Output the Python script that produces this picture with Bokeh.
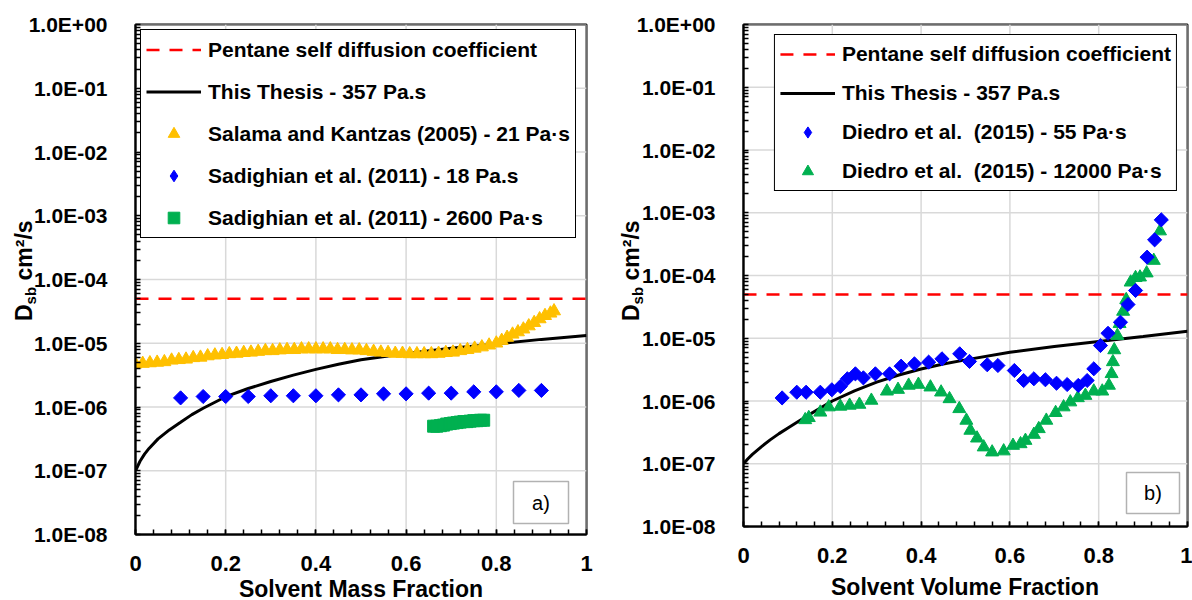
from bokeh.plotting import figure
from bokeh.layouts import row, column
from bokeh.models import (FixedTicker, CustomJSTickFormatter, Legend, LegendItem, Label,
                          BoxAnnotation, Range1d, Span, Div)
from bokeh.embed import file_html
from bokeh.resources import INLINE

FONT = "Liberation Sans"
CSS_FONT = "font-family:'Liberation Sans', Arial, sans-serif; font-weight:bold; color:#000;"

# ---------------- data ----------------
pentane_D = 5.0e-5

# panel a) : Solvent mass fraction
thesis_a_x = [0.0, 0.01, 0.02, 0.03, 0.05, 0.075, 0.10, 0.125, 0.15, 0.20, 0.25, 0.30, 0.35,
              0.40, 0.45, 0.50, 0.60, 0.70, 0.80, 0.90, 1.00]
thesis_a_D = [1.00e-7, 1.41e-7, 1.82e-7, 2.24e-7, 3.16e-7, 4.37e-7, 5.75e-7, 7.59e-7, 9.55e-7,
              1.45e-6, 1.95e-6, 2.51e-6, 3.16e-6, 3.89e-6, 4.68e-6, 5.50e-6, 6.92e-6, 8.32e-6,
              9.77e-6, 1.15e-5, 1.32e-5]

salama_x = [0.000, 0.016, 0.032, 0.048, 0.064, 0.080, 0.096, 0.112, 0.128, 0.144, 0.160, 0.176,
            0.192, 0.208, 0.224, 0.240, 0.256, 0.272, 0.288, 0.304, 0.320, 0.336, 0.352, 0.368,
            0.384, 0.400, 0.416, 0.432, 0.448, 0.464, 0.480, 0.496, 0.512, 0.528, 0.544, 0.560,
            0.576, 0.592, 0.608, 0.624, 0.640, 0.656, 0.672, 0.688, 0.704, 0.720, 0.736, 0.752,
            0.768, 0.784, 0.800, 0.812, 0.824, 0.836, 0.848, 0.860, 0.872, 0.884, 0.896, 0.908,
            0.920, 0.928]
salama_D = [4.7e-6, 4.8e-6, 4.9e-6, 5.0e-6, 5.1e-6, 5.4e-6, 5.5e-6, 5.6e-6, 5.9e-6, 6.0e-6,
            6.3e-6, 6.5e-6, 6.6e-6, 6.8e-6, 6.9e-6, 7.1e-6, 7.2e-6, 7.4e-6, 7.6e-6, 7.6e-6,
            7.8e-6, 7.9e-6, 7.9e-6, 8.1e-6, 8.1e-6, 8.1e-6, 8.1e-6, 8.1e-6, 7.9e-6, 7.9e-6,
            7.8e-6, 7.8e-6, 7.6e-6, 7.4e-6, 7.2e-6, 7.1e-6, 6.9e-6, 6.9e-6, 6.8e-6, 6.8e-6,
            6.8e-6, 6.8e-6, 6.9e-6, 7.1e-6, 7.2e-6, 7.6e-6, 7.9e-6, 8.3e-6, 8.7e-6, 9.3e-6,
            1.0e-5, 1.1e-5, 1.23e-5, 1.38e-5, 1.5e-5, 1.66e-5, 1.86e-5, 2.1e-5, 2.4e-5, 2.7e-5,
            2.95e-5, 3.2e-5]

sad18_x = [0.10, 0.15, 0.20, 0.25, 0.30, 0.35, 0.40, 0.45, 0.50, 0.55, 0.60, 0.65, 0.70, 0.75,
           0.80, 0.85, 0.90]
sad18_D = [1.39e-6, 1.46e-6, 1.46e-6, 1.46e-6, 1.50e-6, 1.50e-6, 1.50e-6, 1.55e-6, 1.55e-6,
           1.61e-6, 1.61e-6, 1.65e-6, 1.65e-6, 1.73e-6, 1.73e-6, 1.82e-6, 1.82e-6]

sad2600_x = [0.661, 0.668, 0.676, 0.683, 0.690, 0.698, 0.705, 0.713, 0.720, 0.728, 0.735, 0.742,
             0.750, 0.757, 0.765, 0.772]
sad2600_D = [5.0e-7, 5.0e-7, 5.1e-7, 5.2e-7, 5.4e-7, 5.5e-7, 5.6e-7, 5.7e-7, 5.8e-7, 5.9e-7,
             5.9e-7, 6.0e-7, 6.1e-7, 6.1e-7, 6.2e-7, 6.2e-7]

# panel b) : Solvent volume fraction
thesis_b_x = [0.0, 0.01, 0.02, 0.04, 0.06, 0.08, 0.10, 0.125, 0.15, 0.20, 0.25, 0.30, 0.35,
              0.40, 0.45, 0.50, 0.60, 0.70, 0.80, 0.90, 1.00]
thesis_b_D = [1.00e-7, 1.20e-7, 1.41e-7, 1.86e-7, 2.40e-7, 3.02e-7, 3.72e-7, 4.79e-7, 6.17e-7,
              1.00e-6, 1.45e-6, 2.00e-6, 2.60e-6, 3.24e-6, 3.89e-6, 4.52e-6, 5.96e-6, 7.41e-6,
              8.91e-6, 1.07e-5, 1.29e-5]

d55_x = [0.087, 0.120, 0.141, 0.173, 0.199, 0.218, 0.234, 0.252, 0.270, 0.297, 0.329, 0.355,
         0.385, 0.417, 0.447, 0.487, 0.509, 0.549, 0.573, 0.610, 0.631, 0.654, 0.680, 0.705,
         0.729, 0.754, 0.774, 0.789, 0.804, 0.821, 0.849, 0.866, 0.883, 0.909, 0.926, 0.941]
d55_D = [1.12e-6, 1.38e-6, 1.38e-6, 1.38e-6, 1.51e-6, 1.70e-6, 2.26e-6, 2.71e-6, 2.34e-6,
         2.71e-6, 2.71e-6, 3.59e-6, 3.91e-6, 4.16e-6, 4.70e-6, 5.65e-6, 4.27e-6, 3.78e-6,
         3.68e-6, 3.06e-6, 2.12e-6, 2.26e-6, 2.18e-6, 1.92e-6, 1.83e-6, 1.77e-6, 2.12e-6,
         3.26e-6, 7.66e-6, 1.2e-5, 1.8e-5, 3.45e-5, 5.77e-5, 1.96e-4, 3.7e-4, 7.7e-4]

d12000_x = [0.139, 0.147, 0.173, 0.192, 0.218, 0.239, 0.261, 0.288, 0.323, 0.348, 0.372, 0.394,
            0.421, 0.445, 0.464, 0.486, 0.502, 0.511, 0.526, 0.541, 0.560, 0.586, 0.607, 0.624,
            0.635, 0.654, 0.665, 0.682, 0.703, 0.721, 0.736, 0.753, 0.770, 0.789, 0.808, 0.823,
            0.829, 0.832, 0.835, 0.842, 0.847, 0.855, 0.862, 0.872, 0.883, 0.893, 0.908, 0.924,
            0.938]
d12000_D = [5.0e-7, 5.4e-7, 6.6e-7, 8.0e-7, 8.2e-7, 8.5e-7, 8.8e-7, 1.02e-6, 1.43e-6, 1.52e-6,
            1.77e-6, 1.83e-6, 1.66e-6, 1.38e-6, 1.08e-6, 7.5e-7, 4.9e-7, 3.39e-7, 2.55e-7,
            1.84e-7, 1.53e-7, 1.59e-7, 1.95e-7, 2.07e-7, 2.34e-7, 2.92e-7, 3.6e-7, 4.9e-7,
            6.5e-7, 8.0e-7, 9.6e-7, 1.12e-6, 1.22e-6, 1.43e-6, 1.43e-6, 1.77e-6, 2.71e-6,
            4.2e-6, 6.5e-6, 1.1e-5, 1.7e-5, 2.67e-5, 4.1e-5, 7.8e-5, 9.2e-5, 9.4e-5, 1.09e-4,
            1.73e-4, 5.1e-4]

x_ticks = [0.0, 0.2, 0.4, 0.6, 0.8, 1.0]
y_decades = list(range(-8, 1))

# ---------------- styling ----------------
RED = "#FF0000"
YELLOW = "#FFC000"
BLUE = "#0000FF"
GREEN = "#00B050"
GRID = "#d9d9d9"
NAN = float("nan")

y_major = [10.0 ** k for k in y_decades]
y_minor = [m * 10.0 ** k for k in y_decades[:-1] for m in range(2, 10)]
x_minor = [i * 0.04 for i in range(26)]

Y_FMT = """
const e = Math.round(Math.log10(tick));
const a = Math.abs(e);
return "1.0E" + (e < 0 ? "-" : "+") + (a < 10 ? "0" : "") + a;
"""
X_FMT = "return (Math.round(tick * 10) / 10).toString();"

H = 600
TOP = 24


def make_fig(width, height, mb_left, mb_right, frame_h, x_standoff):
    p = figure(width=width, height=height, x_range=Range1d(0, 1), y_range=Range1d(1e-8, 1),
               y_axis_type="log", output_backend="svg", toolbar_location=None,
               min_border_left=mb_left, min_border_right=mb_right, min_border_top=TOP,
               min_border_bottom=height - TOP - frame_h)
    p.background_fill_color = "white"
    p.border_fill_color = None
    p.outline_line_color = "black"
    p.outline_line_width = 2
    p.outline_line_alpha = 1
    p.grid.visible = False
    for ax in (p.xaxis[0], p.yaxis[0]):
        ax.axis_line_color = "black"
        ax.axis_line_width = 2
        ax.major_tick_in = 5
        ax.major_tick_out = 0
        ax.minor_tick_in = 5
        ax.minor_tick_out = 0
        ax.major_tick_line_color = "black"
        ax.minor_tick_line_color = "black"
        ax.major_tick_line_width = 1.5
        ax.minor_tick_line_width = 1.5
        ax.major_label_text_font = FONT
        ax.major_label_text_font_style = "bold"
        ax.major_label_text_color = "black"
    p.xaxis.major_label_text_font_size = "22px"
    p.yaxis.major_label_text_font_size = "21px"
    p.xaxis.ticker = FixedTicker(ticks=x_ticks, minor_ticks=x_minor)
    p.yaxis.ticker = FixedTicker(ticks=y_major, minor_ticks=y_minor)
    p.xaxis.formatter = CustomJSTickFormatter(code=X_FMT)
    p.yaxis.formatter = CustomJSTickFormatter(code=Y_FMT)
    p.xaxis.major_label_standoff = x_standoff
    p.yaxis.major_label_standoff = 28
    # grid lines at the major ticks
    for xv in x_ticks:
        p.add_layout(Span(location=xv, dimension="height", line_color=GRID, line_width=1.5,
                          level="underlay"))
    for yv in y_major:
        p.add_layout(Span(location=yv, dimension="width", line_color=GRID, line_width=1.5,
                          level="underlay"))
    return p


def ytitle_div(width, left, top):
    """Rotated y-axis title D_sb cm²/s as real HTML text with a subscript."""
    inner = (
        '<div style="position:absolute; left:%dpx; top:%dpx; transform:rotate(-90deg); '
        'transform-origin:0 0; white-space:nowrap; %s font-size:23px; line-height:23px;">'
        'D<span style="font-size:15px; vertical-align:-4px;">sb</span> cm\u00b2/s</div>'
        % (left, top, CSS_FONT))
    html = ('<div style="position:relative; width:%dpx; height:%dpx; overflow:visible;">%s</div>'
            % (width, H, inner))
    return Div(text=html, width=width, height=H, margin=0, styles={"overflow": "visible"})


def xtitle_div(text, width, height, center, line_h):
    inner = ('<div style="position:absolute; left:%dpx; top:0px; width:400px; text-align:center; '
             'white-space:nowrap; %s font-size:23px; line-height:%dpx;">%s</div>'
             % (center - 200, CSS_FONT, line_h, text))
    html = ('<div style="position:relative; width:%dpx; height:%dpx; overflow:visible;">%s</div>'
            % (width, height, inner))
    return Div(text=html, width=width, height=height, margin=0, styles={"overflow": "visible"})


def add_panel_tag(p, txt, l, r, b, t):
    p.add_layout(BoxAnnotation(left=l, right=r, bottom=b, top=t, left_units="screen",
                               right_units="screen", bottom_units="screen", top_units="screen",
                               fill_color="white", fill_alpha=1, line_color="black",
                               line_width=1.5, level="annotation"))
    p.add_layout(Label(x=(l + r) / 2, y=(b + t) / 2, x_units="screen", y_units="screen",
                       text=txt, text_font=FONT, text_font_size="20px", text_align="center",
                       text_baseline="middle", text_color="black"))


def make_legend(items, loc, margin, row_h, spacing):
    return Legend(items=items, location=loc, padding=5, spacing=spacing, glyph_width=55,
                  glyph_height=row_h, label_height=row_h, label_standoff=7, margin=margin,
                  label_text_font=FONT, label_text_font_size="21px",
                  label_text_font_style="bold", label_text_color="black",
                  border_line_color="black", border_line_width=1.5, border_line_alpha=1,
                  background_fill_color="white", background_fill_alpha=1)


# ---------------- panel a ----------------
TA_W = 20
PA_W = 600 - TA_W
PA_H = 582
ta = ytitle_div(TA_W, 13, 321)
pa = make_fig(PA_W, PA_H, 135 - TA_W, 14, 510, 21)
ra_pent = pa.line([x_ticks[0], x_ticks[-1]], [pentane_D, pentane_D], line_color=RED,
                  line_width=2.5, line_dash="13 10")
ra_th = pa.line(thesis_a_x, thesis_a_D, line_color="black", line_width=3)
pa.scatter(salama_x, salama_D, marker="triangle", size=13, fill_color=YELLOW, line_color=YELLOW)
pa.scatter(sad18_x, sad18_D, marker="square", angle=0.785398, size=10, fill_color=BLUE,
           line_color=BLUE)
pa.scatter(sad2600_x, sad2600_D, marker="square", size=12, fill_color=GREEN, line_color=GREEN)
# legend symbols (proxies with no visible point, drawn only in the legend)
la_sal = pa.scatter([NAN], [NAN], marker="triangle", size=11, fill_color=YELLOW,
                    line_color=YELLOW)
la_s18 = pa.scatter([NAN], [NAN], marker="diamond", size=14, fill_color=BLUE, line_color=BLUE)
la_s26 = pa.scatter([NAN], [NAN], marker="square", size=9, fill_color=GREEN, line_color=GREEN)
leg_a = make_legend([
    LegendItem(label="Pentane self diffusion coefficient", renderers=[ra_pent]),
    LegendItem(label="This Thesis - 357 Pa.s", renderers=[ra_th]),
    LegendItem(label="Salama and Kantzas (2005) - 21 Pa\u00b7s", renderers=[la_sal]),
    LegendItem(label="Sadighian et al. (2011) - 18 Pa.s", renderers=[la_s18]),
    LegendItem(label="Sadighian et al. (2011) - 2600 Pa\u00b7s", renderers=[la_s26]),
], "top_left", 5, 29, 13)
pa.add_layout(leg_a)
add_panel_tag(pa, "a)", 378, 433, 11, 53)
xa = xtitle_div("Solvent Mass Fraction", PA_W, H - PA_H, 135 + 226 - TA_W, 14)

# ---------------- panel b ----------------
TB_W = 20
PB_W = 592 - TB_W
PB_H = 574
tb = ytitle_div(TB_W, 20, 321)
pb = make_fig(PB_W, PB_H, 743 - 600 - TB_W, 5, 502, 21)
rb_pent = pb.line([x_ticks[0], x_ticks[-1]], [pentane_D, pentane_D], line_color=RED,
                  line_width=2.5, line_dash="13 10")
rb_th = pb.line(thesis_b_x, thesis_b_D, line_color="black", line_width=3)
pb.scatter(d12000_x, d12000_D, marker="triangle", size=13, fill_color=GREEN, line_color=GREEN)
pb.scatter(d55_x, d55_D, marker="square", angle=0.785398, size=10, fill_color=BLUE,
           line_color=BLUE)
lb_55 = pb.scatter([NAN], [NAN], marker="diamond", size=14, fill_color=BLUE, line_color=BLUE)
lb_12 = pb.scatter([NAN], [NAN], marker="triangle", size=11, fill_color=GREEN, line_color=GREEN)
leg_b = make_legend([
    LegendItem(label="Pentane self diffusion coefficient", renderers=[rb_pent]),
    LegendItem(label="This Thesis - 357 Pa.s", renderers=[rb_th]),
    LegendItem(label="Diedro et al.  (2015) - 55 Pa\u00b7s", renderers=[lb_55]),
    LegendItem(label="Diedro et al.  (2015) - 12000 Pa\u00b7s", renderers=[lb_12]),
], "top_right", 10, 28, 11)
pb.add_layout(leg_b)
add_panel_tag(pb, "b)", 383, 436, 13, 54)
xb = xtitle_div("Solvent Volume Fraction", PB_W, H - PB_H, 743 + 222 - 600 - TB_W, 26)

layout = row(ta, column(pa, xa), tb, column(pb, xb))
open("out.html", "w").write(file_html(layout, INLINE))
